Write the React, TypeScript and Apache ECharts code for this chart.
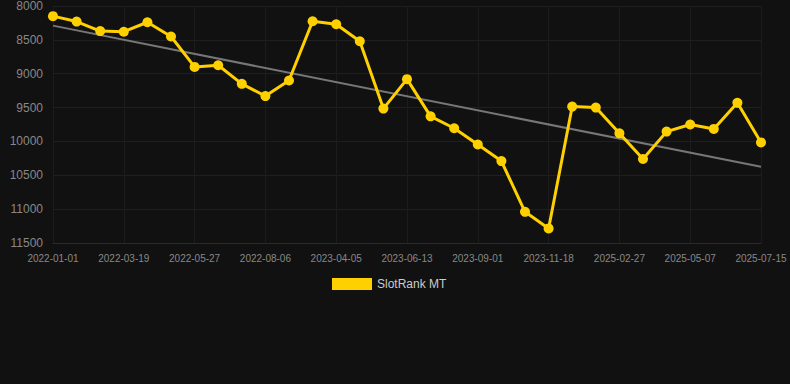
import React, { useEffect, useRef } from "react";
import * as echarts from "echarts";

const categories = [
  "2022-01-01", "2022-01-27", "2022-02-22", "2022-03-19", "2022-04-11", "2022-05-04",
  "2022-05-27", "2022-06-19", "2022-07-13", "2022-08-06", "2022-10-15", "2022-12-25",
  "2023-04-05", "2023-04-28", "2023-05-21", "2023-06-13", "2023-07-09", "2023-08-05",
  "2023-09-01", "2023-09-27", "2023-10-23", "2023-11-18", "2024-05-20", "2024-10-15",
  "2025-02-27", "2025-03-22", "2025-04-14", "2025-05-07", "2025-05-30", "2025-06-22",
  "2025-07-15",
];

const rankValues = [
  8150, 8230, 8370, 8380, 8240, 8450, 8900, 8875, 9150, 9330, 9100,
  8225, 8270, 8520, 9515, 9080, 9630, 9805, 10045, 10290, 11040,
  11285, 9485, 9500, 9880, 10260, 9855, 9750, 9815, 9430, 10015,
];

const trendStart = 8290;
const trendEnd = 10375;

const yTicks = { min: 8000, max: 11500, interval: 500 };

export default function App() {
  const ref = useRef<HTMLDivElement>(null);
  useEffect(() => {
    if (!ref.current) return;
    const chart = echarts.init(ref.current, undefined, { renderer: "svg" });
    const trendData = categories.map((_, i) =>
      i === 0 ? trendStart : i === categories.length - 1 ? trendEnd : null
    );
    chart.setOption({
      animation: false,
      backgroundColor: "#111111",
      grid: { left: 53, right: 29, top: 6, bottom: 141, containLabel: false },
      legend: {
        data: [{ name: "SlotRank MT", icon: "rect" }],
        top: 278,
        left: 332,
        padding: 0,
        itemWidth: 40,
        itemHeight: 12,
        itemGap: 10,
        textStyle: { color: "#cccccc", fontSize: 12, fontFamily: "Liberation Sans, Arial, sans-serif" },
      },
      xAxis: {
        type: "category",
        data: categories,
        boundaryGap: false,
        axisLine: { lineStyle: { color: "#2a2a2a" } },
        axisTick: { show: false },
        axisLabel: {
          interval: 2,
          color: "#888888",
          fontSize: 10,
          margin: 10,
          fontFamily: "Liberation Sans, Arial, sans-serif",
        },
        splitLine: { show: true, interval: 2, lineStyle: { color: "#1c1c1c" } },
      },
      yAxis: {
        type: "value",
        inverse: true,
        min: yTicks.min,
        max: yTicks.max,
        interval: yTicks.interval,
        axisLine: { show: false },
        axisTick: { show: false },
        axisLabel: {
          color: "#888888",
          fontSize: 12,
          margin: 10,
          fontFamily: "Liberation Sans, Arial, sans-serif",
          formatter: (v: number) => String(v),
        },
        splitLine: { lineStyle: { color: "#1f1f1f" } },
      },
      series: [
        {
          name: "Trend",
          type: "line",
          data: trendData,
          connectNulls: true,
          showSymbol: false,
          symbol: "none",
          lineStyle: { color: "#777777", width: 2 },
          silent: true,
          z: 1,
        },
        {
          name: "SlotRank MT",
          type: "line",
          data: rankValues,
          symbol: "circle",
          symbolSize: 10,
          itemStyle: { color: "#FFD000" },
          lineStyle: { color: "#FFD000", width: 3 },
          z: 2,
        },
      ],
    });
    return () => chart.dispose();
  }, []);
  return <div ref={ref} style={{ width: 790, height: 384, position: "absolute", left: 0, top: 0 }} />;
}
